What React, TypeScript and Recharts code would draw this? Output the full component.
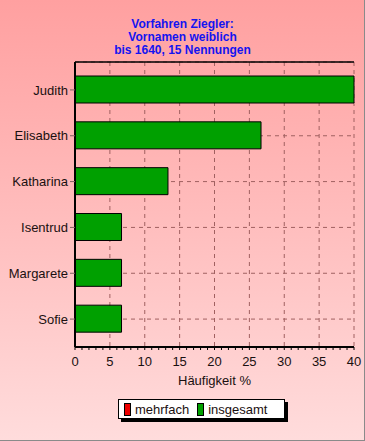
import React from 'react';
import {
  BarChart, Bar, XAxis, YAxis, CartesianGrid,
} from 'recharts';

const names = ['Judith', 'Elisabeth', 'Katharina', 'Isentrud', 'Margarete', 'Sofie'];
const insgesamt = [40, 26.67, 13.33, 6.67, 6.67, 6.67];
const mehrfach = [0, 0, 0, 0, 0, 0];
const xTicks = [0, 5, 10, 15, 20, 25, 30, 35, 40];
const minorTicks = Array.from({ length: 41 }, (_, i) => i);

const titleLines = ['Vorfahren Ziegler:', 'Vornamen weiblich', 'bis 1640, 15 Nennungen'];

const FONT = "'Liberation Sans', Arial, sans-serif";
const GREEN = '#00a000';
const RED = '#ee0000';

const chartData = names.map((name, i) => ({
  name,
  mehrfach: mehrfach[i],
  insgesamt: insgesamt[i],
}));

function XTick(props: any) {
  const { x, y, payload } = props;
  if (payload.value % 5 !== 0) return null;
  return (
    <text x={x} y={y + 14} textAnchor="middle" fontSize={13} fontFamily={FONT} fill="#1a1010">
      {payload.value}
    </text>
  );
}

export default function App() {
  return (
    <div
      style={{
        position: 'absolute', left: 0, top: 0, width: 365, height: 441,
        boxSizing: 'border-box',
        background: 'linear-gradient(to bottom, #ffa0a0 0%, #ffc0c0 55%, #ffdcdc 100%)',
        borderRight: '1px solid #8a8a8a', borderBottom: '1px solid #8a8a8a',
        fontFamily: FONT,
      }}
    >
      <div style={{ position: 'absolute', top: 18, left: 0, width: 365, textAlign: 'center', color: '#1414f0', fontWeight: 'bold', fontSize: 12, lineHeight: '13px' }}>
        {titleLines.map((t) => <div key={t}>{t}</div>)}
      </div>
      <div style={{ position: 'absolute', left: 0, top: 0 }}>
        <BarChart
          width={365}
          height={441}
          data={chartData}
          layout="vertical"
          margin={{ top: 61, right: 11, left: 5, bottom: 56 }}
          barSize={27}
        >
          <CartesianGrid strokeDasharray="4 4" stroke="#a06060" verticalValues={xTicks} />
          <XAxis
            type="number"
            domain={[0, 40]}
            ticks={minorTicks}
            interval={0}
            height={38}
            tick={<XTick />}
            tickSize={3}
            tickLine={{ stroke: '#000' }}
            axisLine={{ stroke: '#000', strokeWidth: 2 }}
            label={{ value: 'Häufigkeit %', position: 'insideBottom', offset: 0, fontSize: 13, fontFamily: FONT, fill: '#1a1010' }}
          />
          <XAxis
            xAxisId="top"
            orientation="top"
            type="number"
            domain={[0, 40]}
            height={1}
            tick={false}
            tickLine={false}
            axisLine={{ stroke: '#000', strokeWidth: 1.5 }}
          />
          <YAxis
            type="category"
            dataKey="name"
            width={70}
            padding={{ top: 5, bottom: 5 }}
            tickSize={5}
            tickMargin={2}
            tick={{ fontSize: 13, fontFamily: FONT, fill: '#1a1010' }}
            tickLine={{ stroke: '#806060' }}
            axisLine={{ stroke: '#000', strokeWidth: 2 }}
          />
          <Bar dataKey="mehrfach" stackId="a" fill={RED} stroke="#000" isAnimationActive={false} />
          <Bar dataKey="insgesamt" stackId="a" fill={GREEN} stroke="#000" isAnimationActive={false} />
        </BarChart>
      </div>
      <div
        style={{
          position: 'absolute', left: 118, top: 399, width: 167, height: 20,
          boxSizing: 'border-box', background: '#fff', border: '1px solid #000',
          boxShadow: '3px 3px 0 #000', display: 'flex', alignItems: 'center',
          fontSize: 13, color: '#1a1010', paddingLeft: 5,
        }}
      >
        <span style={{ width: 7, height: 13, background: RED, border: '1px solid #000', boxSizing: 'border-box', marginRight: 4 }} />
        <span style={{ marginRight: 8 }}>mehrfach</span>
        <span style={{ width: 7, height: 13, background: GREEN, border: '1px solid #000', boxSizing: 'border-box', marginRight: 4 }} />
        <span>insgesamt</span>
      </div>
    </div>
  );
}
